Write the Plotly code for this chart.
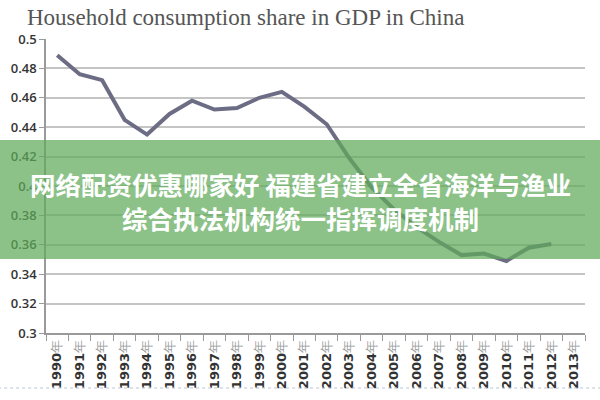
import plotly.graph_objects as go

year_nums = list(range(1990, 2014))
years = [f"{y}年" for y in year_nums]
year_tick_text = [f"<b>{y}</b><span style='color:#9a9a9a'>年</span>" for y in year_nums]
share = [0.489, 0.476, 0.472, 0.445, 0.435, 0.449, 0.458, 0.452, 0.453, 0.460,
         0.464, 0.454, 0.442, 0.419, 0.399, 0.384, 0.372, 0.362, 0.353, 0.354,
         0.349, 0.358, 0.3605, None]
y_ticks = [0.3, 0.32, 0.34, 0.36, 0.38, 0.4, 0.42, 0.44, 0.46, 0.48, 0.5]
y_tick_labels = ["0.3", "0.32", "0.34", "0.36", "0.38", "0.4", "0.42", "0.44", "0.46", "0.48", "0.5"]
title_text = "Household consumption share in GDP in China"
banner_lines = ["网络配资优惠哪家好 福建省建立全省海洋与渔业", "综合执法机构统一指挥调度机制"]

fig = go.Figure()
fig.add_trace(go.Scatter(
    x=years, y=share, mode="lines",
    line=dict(color="#6c6d84", width=4),
    connectgaps=False, showlegend=False, hoverinfo="skip",
))

fig.update_layout(
    width=600, height=400,
    margin=dict(l=46, r=15, t=39, b=67, autoexpand=False),
    paper_bgcolor="white", plot_bgcolor="white",
    title=dict(text=title_text, x=27 / 600, xanchor="left", xref="container",
               y=1 - 17 / 400, yanchor="middle", automargin=False,
               font=dict(family="Liberation Serif", size=23, color="#555555")),
    xaxis=dict(
        type="category", categoryorder="array", categoryarray=years,
        tickvals=years, ticktext=year_tick_text,
        range=[-0.5, 23.5], tickangle=-90, automargin=False,
        showline=True, linecolor="#9a9a9a", linewidth=1.5,
        ticks="outside", tickson="boundaries", ticklen=6, tickcolor="#9a9a9a",
        showgrid=False,
        tickfont=dict(family="DejaVu Sans", size=13, color="#333333"),
    ),
    yaxis=dict(
        range=[0.3, 0.5], tickvals=y_ticks, ticktext=y_tick_labels, automargin=False,
        showline=True, linecolor="#9a9a9a", linewidth=1.5,
        ticks="outside", ticklen=5, tickcolor="#9a9a9a",
        showgrid=True, gridcolor="#c4c4c4", gridwidth=1.5,
        zeroline=False,
        tickfont=dict(family="Open Sans", size=13, color="#333333", weight=600),
    ),
)

# semi-transparent green banner over the chart
fig.add_shape(type="rect", xref="paper", yref="paper", x0=-0.1, x1=1.1,
              y0=(400 - 67 - 259) / 294, y1=(400 - 67 - 140) / 294,
              fillcolor="rgba(95,170,90,0.72)", line=dict(width=0), layer="above")

fig.add_annotation(text=f"<b>{banner_lines[0]}</b>", xref="paper", yref="paper",
                   x=(300 - 46) / 539, y=(400 - 67 - 183) / 294,
                   showarrow=False, xanchor="center", yanchor="middle",
                   font=dict(family="Noto Sans CJK SC", size=25.5, color="white"))
fig.add_annotation(text=f"<b>{banner_lines[1]}</b>", xref="paper", yref="paper",
                   x=(300 - 46) / 539, y=(400 - 67 - 217) / 294,
                   showarrow=False, xanchor="center", yanchor="middle",
                   font=dict(family="Noto Sans CJK SC", size=25.5, color="white"))

# dotted separator near the bottom
fig.add_shape(type="line", xref="paper", yref="paper", x0=-0.1, x1=1.1,
              y0=(400 - 67 - 388) / 294, y1=(400 - 67 - 388) / 294,
              line=dict(color="#b8c4d0", width=1, dash="dot"))

fig.write_html("out.html", config={"displayModeBar": False},
               post_script="document.body.style.margin='0';")
